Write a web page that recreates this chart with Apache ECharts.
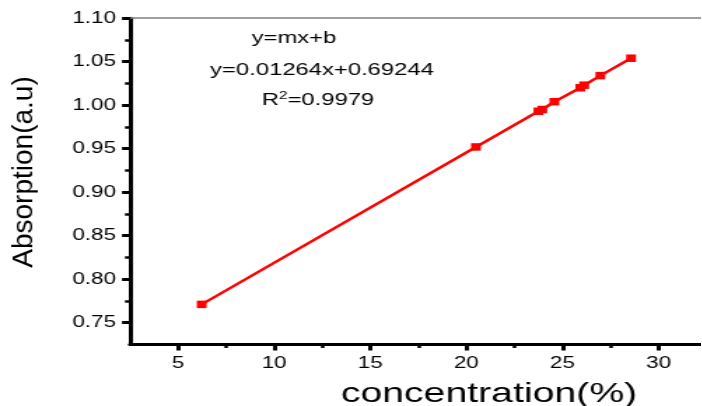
<!DOCTYPE html>
<html>
<head>
<meta charset="utf-8">
<script src="https://cdn.jsdelivr.net/npm/echarts@6/dist/echarts.min.js"></script>
<style>
  html, body { margin: 0; padding: 0; background: #fff; overflow: hidden; }
  /* the source figure is stretched sideways, so draw it narrow and widen it */
  #chart { width: 501.4px; height: 406px; transform: scaleX(1.4); transform-origin: 0 0; }
</style>
</head>
<body>
<div id="chart"></div>
<script>
// readings: concentration (%) vs absorption (a.u)
const concentration = [6.23, 20.5, 23.75, 23.95, 24.58, 25.93, 26.13, 26.97, 28.57];
const absorption = [0.771, 0.952, 0.993, 0.995, 1.004, 1.020, 1.023, 1.034, 1.054];

const xTicks = [5, 10, 15, 20, 25, 30];
const xMinorTicks = [7.5, 12.5, 17.5, 22.5, 27.5];
const yTicks = [0.75, 0.80, 0.85, 0.90, 0.95, 1.00, 1.05, 1.10];
const yMinorTicks = [0.775, 0.825, 0.875, 0.925, 0.975, 1.025, 1.075];

const fitText = ['y=mx+b', 'y=0.01264x+0.69244', 'R{sup|2}=0.9979'];

const S = 1.4; // horizontal stretch
const FONT = '"Liberation Sans", Arial, sans-serif';

let chart = echarts.init(document.getElementById('chart'));

let fitLabel = function (text, x, y) {
  return {
    type: 'text',
    x: x / S,
    y: y,
    style: {
      text: text,
      fontFamily: FONT,
      fontSize: 17,
      fill: '#000',
      align: 'center',
      verticalAlign: 'middle',
      rich: {
        sup: { fontSize: 11, fontFamily: FONT, padding: [0, 0, 9, 0] }
      }
    }
  };
};

chart.setOption({
  animation: false,
  grid: {
    left: 130 / S,
    top: 18.2,
    width: 576.6 / S,
    height: 326.2,
    outerBoundsMode: 'none'
  },
  xAxis: [
    {
      type: 'value',
      min: 2.5,
      max: 32.5,
      position: 'bottom',
      name: 'concentration(%)',
      nameLocation: 'middle',
      nameGap: 36,
      nameTextStyle: { fontFamily: FONT, fontSize: 28, color: '#000', padding: [0, 0, 0, 101] },
      axisLine: { show: true, lineStyle: { color: '#000', width: 3 } },
      axisTick: { show: true, customValues: xTicks, length: 6, lineStyle: { color: '#000', width: 3 } },
      axisLabel: {
        customValues: xTicks,
        margin: 11,
        fontFamily: FONT,
        fontSize: 16,
        color: '#000'
      },
      splitLine: { show: false }
    },
    {
      // minor ticks
      type: 'value',
      min: 2.5,
      max: 32.5,
      position: 'bottom',
      axisLine: { show: false },
      axisTick: { show: true, customValues: xMinorTicks, length: 3.5, lineStyle: { color: '#000', width: 2.5 } },
      axisLabel: { show: false },
      splitLine: { show: false }
    },
    {
      // grey frame line on top
      type: 'value',
      min: 2.5,
      max: 32.5,
      position: 'top',
      axisLine: { show: true, lineStyle: { color: '#808080', width: 1.5 } },
      axisTick: { show: false },
      axisLabel: { show: false },
      splitLine: { show: false }
    }
  ],
  yAxis: [
    {
      type: 'value',
      min: 0.725,
      max: 1.10,
      position: 'left',
      axisLine: { show: true, lineStyle: { color: '#000', width: 3 } },
      axisTick: { show: true, customValues: yTicks, length: 5.7, lineStyle: { color: '#000', width: 3 } },
      axisLabel: {
        customValues: yTicks,
        margin: 10,
        fontFamily: FONT,
        fontSize: 16,
        color: '#000',
        formatter: function (v) { return v.toFixed(2); }
      },
      splitLine: { show: false }
    },
    {
      type: 'value',
      min: 0.725,
      max: 1.10,
      position: 'left',
      axisLine: { show: false },
      axisTick: { show: true, customValues: yMinorTicks, length: 3.6, lineStyle: { color: '#000', width: 2.5 } },
      axisLabel: { show: false },
      splitLine: { show: false }
    }
  ],
  graphic: [
    // y axis title, rotated; scaleY undoes the page stretch for this one
    {
      type: 'text',
      x: 25 / S,
      y: 172,
      rotation: Math.PI / 2,
      scaleY: 1 / S,
      style: {
        text: 'Absorption(a.u)',
        fontFamily: FONT,
        fontSize: 28,
        fill: '#000',
        align: 'center',
        verticalAlign: 'middle'
      }
    },
    fitLabel(fitText[0], 294, 38),
    fitLabel(fitText[1], 322, 70),
    fitLabel(fitText[2], 318, 100)
  ],
  series: [
    {
      type: 'line',
      xAxisIndex: 0,
      yAxisIndex: 0,
      data: concentration.map((c, i) => [c, absorption[i]]),
      symbol: 'rect',
      symbolSize: [7, 7.5],
      showAllSymbol: true,
      lineStyle: { color: '#ff0000', width: 2.5 },
      itemStyle: { color: '#ff0000' },
      z: 3
    }
  ]
});
</script>
</body>
</html>
